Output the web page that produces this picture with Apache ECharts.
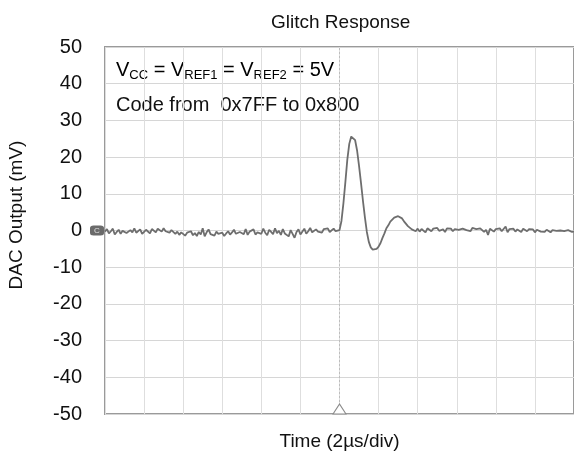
<!DOCTYPE html>
<html>
<head>
<meta charset="utf-8">
<script src="https://cdn.jsdelivr.net/npm/echarts@6/dist/echarts.min.js"></script>
<style>
  html, body { margin: 0; padding: 0; background: #fff; }
  #chart { width: 574px; height: 468px; }
</style>
</head>
<body>
<div id="chart"></div>
<script>
// scope capture, sampled every 0.1 us starting at -12 us (trigger at 0)
var startTime = -12;
var sampleStep = 0.1;

// baseline before trigger (mV)
var preTrigger = [
  -0.3, 0.4, -0.8, -0.2, 0.5, -1.1, -0.4, 0.2, -0.9, -0.1,
  0.3, -0.7, -1.2, 0.1, -0.5, 0.6, -0.6, -0.2, 0.3, -0.9,
  -0.4, 0.2, -0.1, -0.8, 0.4, 0.1, -0.5, 0.5, 0.2, -0.3,
  0.6, -0.2, 0.3, -0.6, 0.1, -0.4, -0.9, -0.3, -1.2, -0.5,
  -0.8, -1.4, -0.6, -1.0, -0.2, -1.3, -0.7, -1.5, -0.4, -1.1,
  0.6, -1.6, -0.5, 0.3, -1.0, -0.7, -1.4, -0.3, -0.9, -1.2,
  -0.6, -1.5, -0.8, -0.2, -1.1, -0.5, 0.2, -0.9, -1.3, -0.4,
  -0.7, -1.0, 0.4, -1.2, -0.3, -0.8, 0.3, -1.1, -0.5, -0.2,
  -0.9, 0.5, -0.6, -1.3, 0.2, -0.4, -1.0, 0.6, -0.7, -0.1,
  -1.2, 0.4, -0.8, -0.3, -1.6, 0.1, -0.9, -2.0, -0.4, 0.3,
  -1.1, -0.6, 0.5, -0.9, -0.2, 0.7, -0.5, -1.0, 0.3, -0.3,
  0.2, -0.6, 0.4, -0.1, 0.6, -0.4, 0.1, 0.5, -0.2, 0.3
];

// the glitch itself, 0 to 3.9 us (mV)
var glitch = [
  0.1, 2.6, 7.4, 13.2, 19.3, 23.6, 25.6, 25.9, 24.6, 21.8,
  17.6, 13.0, 8.1, 3.6, -0.4, -3.1, -4.6, -5.2, -5.6, -5.0,
  -4.4, -3.4, -2.0, -0.8, 0.6, 1.4, 2.4, 2.9, 3.5, 3.6,
  3.9, 3.5, 3.3, 2.5, 2.0, 1.2, 0.9, 0.3, 0.4, -0.2
];

// settling tail, 4 to 12 us (mV)
var tail = [
  0.5, -0.3, 0.4, 0.1, -0.5, 0.6, 0.2, -0.2, 0.5, 0.0,
  0.7, -0.1, 0.4, 0.3, -0.4, 0.6, 0.1, 0.5, -0.2, 0.4,
  0.8, 0.2, -0.3, 0.5, 0.6, 0.1, 0.3, -0.2, 0.7, 0.2,
  0.4, -0.1, 0.6, 0.3, -0.4, 0.2, -1.2, 0.5, 0.1, -0.3,
  0.4, 0.2, 0.6, -0.2, 0.3, 1.1, -0.5, 0.4, 0.0, 0.5,
  -0.3, 0.3, 0.2, -0.4, 0.5, 0.1, -0.2, 0.4, -0.1, 0.3,
  -0.5, 0.2, 0.0, -0.3, 0.1, -0.4, 0.2, -0.2, -0.5, 0.1,
  -0.3, -0.1, -0.6, 0.0, -0.4, -0.2, -0.5, 0.1, -0.3, -0.4,
  -0.2
];

var yTicks = [-50, -40, -30, -20, -10, 0, 10, 20, 30, 40, 50];

var FONT = "'Liberation Sans', Arial, sans-serif";

var samples = preTrigger.concat(glitch, tail);
var trace = samples.map(function (v, i) {
  return [+(startTime + i * sampleStep).toFixed(2), v];
});

var chartDom = document.getElementById('chart');
var myChart = echarts.init(chartDom, null, { renderer: 'canvas' });

var option = {
  animation: false,
  backgroundColor: '#fff',
  title: {
    text: 'Glitch Response',
    left: 266,
    top: 8,
    textStyle: { fontFamily: FONT, fontSize: 19, fontWeight: 'normal', color: '#111' }
  },
  grid: {
    left: 105,
    right: 0,
    top: 47,
    bottom: 54,
    show: true,
    borderColor: '#9a9a9a',
    borderWidth: 2
  },
  xAxis: {
    type: 'value',
    min: -12,
    max: 12,
    interval: 2,
    name: 'Time (2\u00b5s/div)',
    nameLocation: 'middle',
    nameGap: 18,
    nameTextStyle: { fontFamily: FONT, fontSize: 19, color: '#111' },
    axisLine: { show: false },
    axisTick: { show: false },
    axisLabel: { show: false },
    splitLine: { show: true, lineStyle: { color: '#dedede', width: 1 } }
  },
  yAxis: {
    type: 'value',
    min: yTicks[0],
    max: yTicks[yTicks.length - 1],
    interval: 10,
    axisLine: { show: false },
    axisTick: { show: false },
    axisLabel: {
      margin: 23,
      fontFamily: FONT,
      fontSize: 20,
      color: '#111'
    },
    splitLine: { show: true, lineStyle: { color: '#d6d6d6', width: 1 } }
  },
  graphic: [
    {
      type: 'text',
      x: 17,
      y: 215,
      rotation: Math.PI / 2,
      style: {
        text: 'DAC Output (mV)',
        font: '19px ' + FONT,
        fill: '#111',
        textAlign: 'center',
        textVerticalAlign: 'middle'
      }
    },
    {
      type: 'text',
      left: 116,
      top: 60,
      style: {
        text: '{n|V}{s|CC}{n| = V}{s|REF1}{n| = V}{s|REF2}{n| = 5V}',
        rich: {
          n: { fontFamily: FONT, fontSize: 20, color: '#111', lineHeight: 26, verticalAlign: 'middle' },
          s: { fontFamily: FONT, fontSize: 13, color: '#111', lineHeight: 26, verticalAlign: 'bottom', padding: [0, 0, 1, 0] }
        }
      }
    },
    {
      type: 'text',
      left: 116,
      top: 95,
      style: {
        text: 'Code from  0x7FF to 0x800',
        font: '20px ' + FONT,
        fill: '#111'
      }
    }
  ],
  series: [{
    type: 'line',
    data: trace,
    showSymbol: false,
    symbol: 'none',
    lineStyle: { color: '#6e6e6e', width: 1.8 },
    z: 5,
    markLine: {
      silent: true,
      symbol: 'none',
      label: { show: false },
      lineStyle: { color: '#bdbdbd', type: [2, 2], width: 1 },
      data: [{ xAxis: 0 }]
    },
    markPoint: {
      silent: true,
      data: [
        {
          coord: [0, -50],
          symbol: 'triangle',
          symbolSize: [13, 10],
          symbolOffset: [0, -5],
          itemStyle: { color: '#fff', borderColor: '#8a8a8a', borderWidth: 1 },
          label: { show: false }
        },
        {
          coord: [-12, 0],
          symbol: 'roundRect',
          symbolSize: [14, 10],
          symbolOffset: [-8, 0],
          itemStyle: { color: '#6a6a6a' },
          label: { show: true, formatter: 'C', color: '#e0e0e0', fontSize: 8, fontFamily: FONT }
        }
      ]
    }
  }]
};

option && myChart.setOption(option);
</script>
</body>
</html>
